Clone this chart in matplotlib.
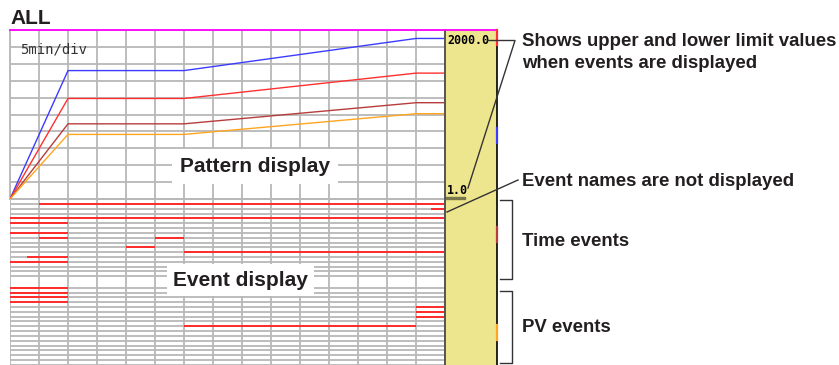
import matplotlib
matplotlib.use("Agg")
import numpy as np
import matplotlib.pyplot as plt
from matplotlib.lines import Line2D

W, H = 839, 365

# program pattern: time (min) vs value
pattern_time = [0, 10, 30, 70, 75]
blue_vals = [1.0, 1520, 1520, 1900, 1900]
red_vals = [1.0, 1190, 1190, 1490, 1490]
brown_vals = [1.0, 890, 890, 1140, 1140]
orange_vals = [1.0, 765, 765, 1010, 1010]
pen_colors = ["#3c3cff", "#ff3030", "#b83c3c", "#ffa620"]
y_low, y_high = 1.0, 2000.0
t_max, t_div = 75, 5

# time events: row, start (min), end (min)
time_rows = [1, 2, 4, 5, 7, 8, 8, 10, 11, 12, 13]
time_start = [5, 72.5, 0, 0, 0, 5, 25, 20, 30, 3, 0]
time_end = [75, 75, 75, 10, 10, 10, 30, 25, 75, 10, 10]

# PV events
pv_rows = [0, 1, 2, 3, 4, 5, 6, 8]
pv_start = [0, 0, 0, 0, 70, 70, 70, 30]
pv_end = [10, 10, 10, 10, 75, 75, 75, 70]

n_rows = 16
gap = 2.43
ev_color = "#ff2a2a"
grid_c = "#b8b8b8"
txt_c = "#231f20"

plt.rcParams["font.family"] = ["Liberation Sans", "DejaVu Sans"]


def px(x, y):
    return x / W, 1 - y / H


fig = plt.figure(figsize=(W / 100, H / 100), dpi=100)

# pattern display
ax_p = fig.add_axes([10 / W, 1 - 199 / H, 435 / W, 169 / H])
ax_p.set_xlim(0, t_max)
ax_p.set_ylim(y_low, y_high)
ax_p.set_xticks(np.arange(0, t_max + 1, t_div))
ax_p.set_yticks(np.linspace(y_low, y_high, 11))
ax_p.grid(True, color=grid_c, lw=1.3)
ax_p.tick_params(length=0, labelbottom=False, labelleft=False)
for s in ["left", "bottom", "right"]:
    ax_p.spines[s].set_color(grid_c)
    ax_p.spines[s].set_linewidth(1.3)
ax_p.spines["top"].set_color("#ff00ff")
ax_p.spines["top"].set_linewidth(1.3)
for vals, c in zip([blue_vals, red_vals, brown_vals, orange_vals], pen_colors):
    ax_p.plot(pattern_time, vals, color=c, lw=1.0, zorder=3)
ax_p.text(0.023, 0.885, "5min/div", transform=ax_p.transAxes, family="DejaVu Sans Mono",
          fontsize=10, color="#333333", va="center")
ax_p.text(0.563, 1 - (166.5 - 30) / 169, "Pattern display", transform=ax_p.transAxes,
          ha="center", va="center", fontsize=15, weight="bold", color=txt_c, zorder=5,
          bbox=dict(boxstyle="square,pad=0.4", fc="white", ec="none"))

# event display
pv_off = n_rows + gap
ax_e = fig.add_axes([10 / W, 0, 435 / W, 166 / H])
ax_e.set_xlim(0, t_max)
ax_e.set_ylim(pv_off + n_rows + 0.05, -0.05)
ax_e.axis("off")
ax_e.hlines(np.arange(n_rows + 1), 0, t_max, color=grid_c, lw=1.3)
ax_e.hlines(pv_off + np.arange(n_rows + 1), 0, t_max, color=grid_c, lw=1.3)
ax_e.vlines(np.arange(0, t_max + 1, t_div), -0.05, pv_off + n_rows + 0.05, color=grid_c, lw=1.3)
ax_e.hlines(time_rows, time_start, time_end, color=ev_color, lw=1.4, zorder=3)
ax_e.hlines(np.array(pv_rows) + pv_off, pv_start, pv_end, color=ev_color, lw=1.4, zorder=3)
ax_e.text((240.5 - 10) / 435, 1 - (280 - 199) / 166, "Event display", transform=ax_e.transAxes,
          ha="center", va="center", fontsize=15, weight="bold", color=txt_c, zorder=5,
          bbox=dict(boxstyle="square,pad=0.3", fc="white", ec="none"))

# scale panel
ax_y = fig.add_axes([445 / W, 0, 52 / W, 335 / H], facecolor="#eee68e")
ax_y.set_xlim(0, 1)
ax_y.set_ylim(0, 1)
ax_y.set_xticks([])
ax_y.set_yticks([])
ax_y.spines["left"].set_color("#555555")
ax_y.spines["left"].set_linewidth(1.4)
ax_y.spines["right"].set_color("black")
ax_y.spines["right"].set_linewidth(1.2)
ax_y.spines["top"].set_color("#ff00ff")
ax_y.spines["top"].set_linewidth(1.3)
ax_y.spines["bottom"].set_visible(False)
ax_y.text(0.04, 1 - 10.5 / 335, "%.1f" % y_high, family="DejaVu Sans Mono", weight="bold",
          fontsize=8.4, va="center", ha="left", color="black")
ax_y.text(0.04, 1 - 160.5 / 335, "%.1f" % y_low, family="DejaVu Sans Mono", weight="bold",
          fontsize=8.4, va="center", ha="left", color="black")
ax_y.fill_between([0, 0.38], 1 - 169 / 335, 1 - 166.5 / 335, color="#77774a")
for i, c in enumerate([pen_colors[1], pen_colors[0], pen_colors[2], pen_colors[3]]):
    top = 1 - 98.3 * i / 335
    ax_y.plot([1, 1], [top, top - 15 / 335], color=c, lw=1.6, clip_on=False, zorder=4)

# callouts
fig.text(*px(10, 18), "ALL", fontsize=15, weight="bold", color=txt_c, va="center")
notes = [("Shows upper and lower limit values", 41), ("when events are displayed", 63),
         ("Event names are not displayed", 182), ("Time events", 242), ("PV events", 328)]
for s, yy in notes:
    fig.text(*px(522, yy), s, fontsize=13.4, weight="bold", color=txt_c, va="center")

leaders = [[(488, 40.5), (515, 40.5), (468, 188)],
           [(518, 180), (447, 212)],
           [(500, 200), (512, 200), (512, 279), (500, 279)],
           [(500, 291), (512, 291), (512, 363), (500, 363)]]
for pts in leaders:
    xs = [p[0] / W for p in pts]
    ys = [1 - p[1] / H for p in pts]
    fig.add_artist(Line2D(xs, ys, color="#333333", lw=1.0, transform=fig.transFigure))

fig.savefig("out.png", dpi=100)
